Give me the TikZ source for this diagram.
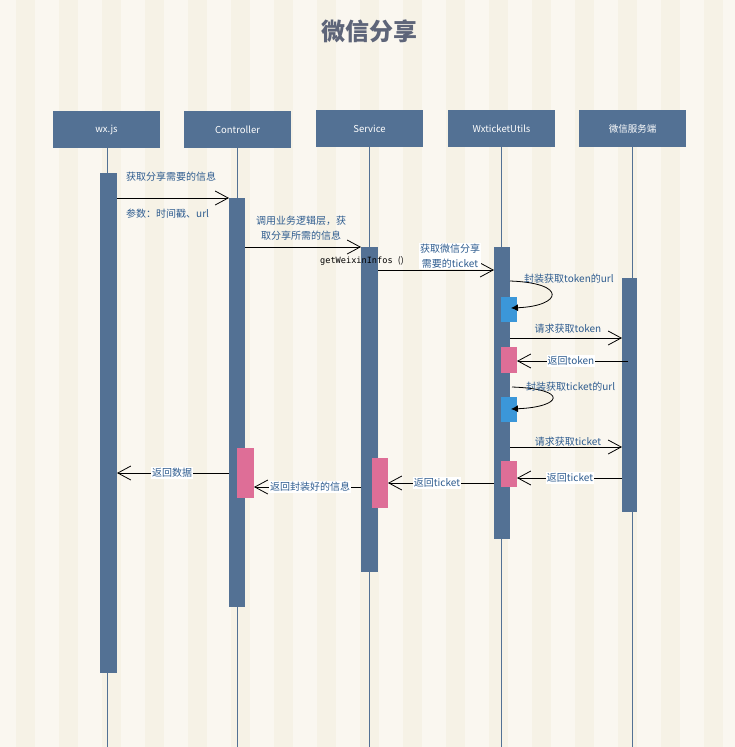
\documentclass[tikz,border=0pt]{standalone}
\usepackage{fontspec}
\setmainfont{Noto Sans CJK SC}
\newfontfamily\codefont{DejaVu Sans Mono}
\usetikzlibrary{arrows.meta,positioning}
\definecolor{paper}{HTML}{FAF7F0}
\definecolor{stripe}{HTML}{F6F2E6}
\definecolor{lane}{HTML}{537194}
\definecolor{hot}{HTML}{DE6E97}
\definecolor{cool}{HTML}{3B97D9}
\definecolor{msgtext}{HTML}{2E5C8F}
\definecolor{titlegray}{HTML}{5E6579}
\tikzset{
  actor/.style={fill=lane, text=white, minimum width=107pt, minimum height=37pt,
    inner sep=0pt, font=\fontsize{9.5}{11}\selectfont},
  bar/.style={fill=lane, minimum width=17pt, inner sep=0pt, anchor=north},
  retbox/.style={fill=hot, minimum width=16pt, inner sep=0pt, anchor=north west},
  callbox/.style={fill=cool, minimum width=16pt, minimum height=25pt, inner sep=0pt, anchor=north west},
  lifeline/.style={draw=lane, line width=0.9pt},
  msg/.style={draw=black, line width=0.8pt, -{Straight Barb[length=13pt,width=14pt,line width=0.8pt]}},
  selfmsg/.style={draw=black, line width=0.8pt, -{Latex[length=7pt,width=7pt]}},
  lbl/.style={text=msgtext, inner sep=1pt, font=\fontsize{10}{15.5}\selectfont, align=center},
  retlbl/.style={lbl, fill=white}
}
\begin{document}
\begin{tikzpicture}[x=1pt,y=-1pt]
  \useasboundingbox (0,0) rectangle (735,747);
  % Background
  \fill[paper] (0,0) rectangle (735,747);
  \foreach \k in {0,...,16}
    \fill[stripe] (16+43*\k,0) rectangle (35+43*\k,747);
  % Title
  \node[text=titlegray, font=\fontsize{24}{27}\selectfont\bfseries] (title) at (369,31) {微信分享};
  % Participants
  \node[actor] (wx) at (106.5,129.5) {wx.js};
  \node[actor] (ctrl) at (237.5,129.5) {Controller};
  \node[actor] (svc) at (369.5,128.5) {Service};
  \node[actor] (util) at (501.5,128.5) {WxticketUtils};
  \node[actor] (srv) at (632.5,128.5) {微信服务端};
  % Lifelines
  \coordinate (wxend) at (107,747);
  \coordinate (ctrlend) at (237,747);
  \coordinate (svcend) at (369,747);
  \coordinate (utilend) at (501,747);
  \coordinate (srvend) at (632,747);
  \draw[lifeline] (wx.south -| wxend) -- (wxend);
  \draw[lifeline] (ctrl.south -| ctrlend) -- (ctrlend);
  \draw[lifeline] (svc.south -| svcend) -- (svcend);
  \draw[lifeline] (util.south -| utilend) -- (utilend);
  \draw[lifeline] (srv.south -| srvend) -- (srvend);
  % Activation bars
  \node[bar, minimum height=500pt] (wxbar) at (108.5,173) {};
  \node[bar, minimum height=409pt, minimum width=16pt] (ctrlbar) at (237,198) {};
  \node[bar, minimum height=325pt] (svcbar) at (369.5,247) {};
  \node[bar, minimum height=292pt, minimum width=16pt] (utilbar) at (502,247) {};
  \node[bar, minimum height=234pt, minimum width=15pt] (srvbar) at (629.5,278) {};
  % Returns and calls
  \node[retbox, minimum height=50pt, minimum width=17pt] (ctrlret) at (237,448) {};
  \node[retbox, minimum height=50pt] (svcret) at (372,458) {};
  \node[retbox, minimum height=26pt] (tokenret) at (501,347) {};
  \node[retbox, minimum height=26pt] (ticketret) at (501,461) {};
  \node[callbox] (tokencall) at (501,297) {};
  \node[callbox] (ticketcall) at (501,397) {};
  % Message ends
  \coordinate (m1a) at (117,198);  \coordinate (m1b) at (229,198);
  \coordinate (m2a) at (245,247);  \coordinate (m2b) at (361,247);
  \coordinate (m3a) at (378,270);  \coordinate (m3b) at (494,270);
  \coordinate (s1a) at (510,281);  \coordinate (s1b) at (511,308);
  \coordinate (m5a) at (510,338);  \coordinate (m5b) at (622,338);
  \coordinate (m6a) at (628,361);  \coordinate (m6b) at (517,361);
  \coordinate (s2a) at (512,387);  \coordinate (s2b) at (511,409);
  \coordinate (m8a) at (510,447);  \coordinate (m8b) at (622,447);
  \coordinate (m9a) at (622,478);  \coordinate (m9b) at (517,478);
  \coordinate (m10a) at (494,483); \coordinate (m10b) at (388,483);
  \coordinate (m11a) at (361,487); \coordinate (m11b) at (254,487);
  \coordinate (m12a) at (229,473); \coordinate (m12b) at (117,473);
  % Messages
  \draw[msg] (m1a) -- (m1b);
  \node[lbl, anchor=west] (m1top) at (125,177) {获取分享需要的信息};
  \node[lbl, anchor=west] (m1low) at (125,214) {参数：时间戳、url};
  \draw[msg] (m2a) -- (m2b);
  \node[lbl] (m2lbl) at (301,228) {调用业务逻辑层，获\\取分享所需的信息};
  \node[anchor=west, inner sep=0pt, font=\codefont\fontsize{8.6}{10}\selectfont] (m2code) at (320,261) {getWeixinInfos \textrm{()}};
  \draw[msg] (m3a) -- (m3b);
  \node[retlbl] (m3lbl) at (450,256) {获取微信分享\\需要的ticket};
  \draw[selfmsg] (s1a) .. controls (568,283) and (562,306) .. (s1b);
  \node[lbl, anchor=west] (s1lbl) at (523,279) {封装获取token的url};
  \draw[msg] (m5a) -- (m5b);
  \node[lbl] (m5lbl) at (568,329) {请求获取token};
  \draw[msg] (m6a) -- (m6b);
  \node[retlbl] (m6lbl) at (571,361) {返回token};
  \draw[selfmsg] (s2a) .. controls (570,389) and (562,407) .. (s2b);
  \node[lbl, anchor=west] (s2lbl) at (525,387) {封装获取ticket的url};
  \draw[msg] (m8a) -- (m8b);
  \node[lbl] (m8lbl) at (568,442) {请求获取ticket};
  \draw[msg] (m9a) -- (m9b);
  \node[retlbl] (m9lbl) at (570,478) {返回ticket};
  \draw[msg] (m10a) -- (m10b);
  \node[retlbl] (m10lbl) at (437,483) {返回ticket};
  \draw[msg] (m11a) -- (m11b);
  \node[retlbl] (m11lbl) at (310,487) {返回封装好的信息};
  \draw[msg] (m12a) -- (m12b);
  \node[retlbl] (m12lbl) at (172,473) {返回数据};
\end{tikzpicture}
\end{document}
